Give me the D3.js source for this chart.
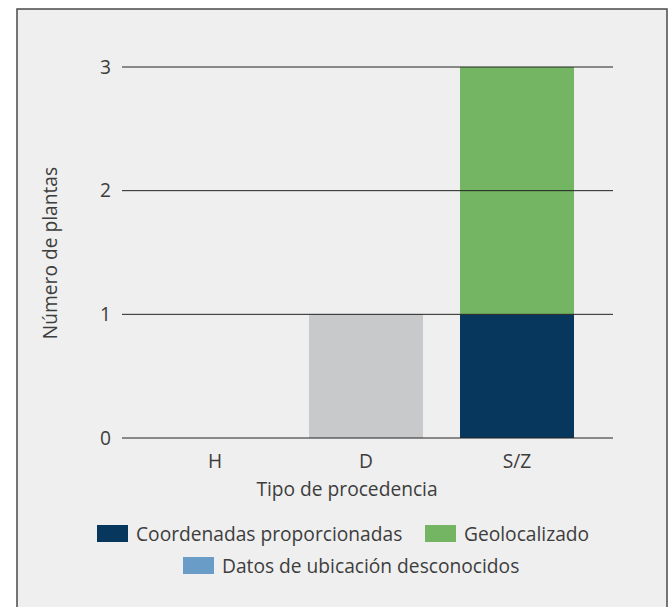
<!DOCTYPE html>
<html>
<head>
<meta charset="utf-8">
<script src="https://cdn.jsdelivr.net/npm/d3@7"></script>
<style>
  html, body { margin: 0; padding: 0; background: #fff; }
  svg { display: block; }
</style>
</head>
<body>
<div id="chart"></div>
<script>
const categories = ["H", "D", "S/Z"];
const coordenadas = [0, 0, 1];
const geolocalizado = [0, 0, 2];
const desconocidos = [0, 0, 0];
const otros = [0, 1, 0]; // gray bar, not in legend
const yTicks = [0, 1, 2, 3];

const seriesKeys = ["coordenadas", "geolocalizado", "desconocidos", "otros"];
const seriesColors = {
    coordenadas: "#08375e",
    geolocalizado: "#74b563",
    desconocidos: "#6a9cc8",
    otros: "#c8c9ca"
};
const legendItems = [
    { key: "coordenadas", label: "Coordenadas proporcionadas" },
    { key: "geolocalizado", label: "Geolocalizado" },
    { key: "desconocidos", label: "Datos de ubicación desconocidos" }
];

const width = 669, height = 607;
const font = "'Open Sans', sans-serif";
const fs = "19.2px";
const textColor = "#3d3d3d";

const table = categories.map((c, i) => ({
    cat: c,
    coordenadas: coordenadas[i],
    geolocalizado: geolocalizado[i],
    desconocidos: desconocidos[i],
    otros: otros[i]
}));

const svg = d3.select("#chart").append("svg")
    .attr("width", width)
    .attr("height", height);

// panel
svg.append("rect")
    .attr("x", 17).attr("y", 9)
    .attr("width", 650).attr("height", 610)
    .attr("fill", "#eeefee")
    .attr("stroke", "#4a4a4a")
    .attr("stroke-width", 1.5);

const x = d3.scaleBand()
    .domain(categories)
    .range([139.5, 592.5])
    .paddingInner(0.245)
    .paddingOuter(0.1225);

const y = d3.scaleLinear()
    .domain([0, 3])
    .range([438, 67]);

const stacked = d3.stack().keys(seriesKeys)(table);

// bars
svg.append("g").selectAll("g")
    .data(stacked).enter().append("g")
    .attr("fill", d => seriesColors[d.key])
    .selectAll("rect")
    .data(d => d).enter().append("rect")
    .attr("x", d => x(d.data.cat))
    .attr("width", x.bandwidth())
    .attr("y", d => y(d[1]))
    .attr("height", d => y(d[0]) - y(d[1]));

// gridlines
svg.append("g").selectAll("line")
    .data(yTicks).enter().append("line")
    .attr("x1", 122).attr("x2", 613)
    .attr("y1", d => y(d)).attr("y2", d => y(d))
    .attr("stroke", "#222")
    .attr("stroke-width", 1);

// y tick labels
svg.append("g").selectAll("text")
    .data(yTicks).enter().append("text")
    .attr("x", 111)
    .attr("y", d => y(d))
    .attr("dy", "0.35em")
    .attr("text-anchor", "end")
    .attr("fill", textColor)
    .style("font-family", font)
    .style("font-size", fs)
    .text(d => d);

// x tick labels
svg.append("g").selectAll("text")
    .data(categories).enter().append("text")
    .attr("x", d => x(d) + x.bandwidth() / 2)
    .attr("y", 468)
    .attr("text-anchor", "middle")
    .attr("fill", textColor)
    .style("font-family", font)
    .style("font-size", fs)
    .text(d => d);

// axis titles
svg.append("text")
    .attr("x", 347).attr("y", 496)
    .attr("text-anchor", "middle")
    .attr("fill", textColor)
    .style("font-family", font)
    .style("font-size", fs)
    .text("Tipo de procedencia");

svg.append("text")
    .attr("transform", "translate(57,253) rotate(-90)")
    .attr("text-anchor", "middle")
    .attr("fill", textColor)
    .style("font-family", font)
    .style("font-size", fs)
    .text("Número de plantas");

// legend
const legendPos = [
    { x: 97, y: 525 },
    { x: 425, y: 525 },
    { x: 183, y: 557 }
];
const lg = svg.append("g").selectAll("g")
    .data(legendItems).enter().append("g")
    .attr("transform", (d, i) => `translate(${legendPos[i].x},${legendPos[i].y})`);
lg.append("rect")
    .attr("width", 31).attr("height", 17)
    .attr("fill", d => seriesColors[d.key]);
lg.append("text")
    .attr("x", 39).attr("y", 9)
    .attr("dy", "0.35em")
    .attr("fill", textColor)
    .style("font-family", font)
    .style("font-size", fs)
    .text(d => d.label);
</script>
</body>
</html>
